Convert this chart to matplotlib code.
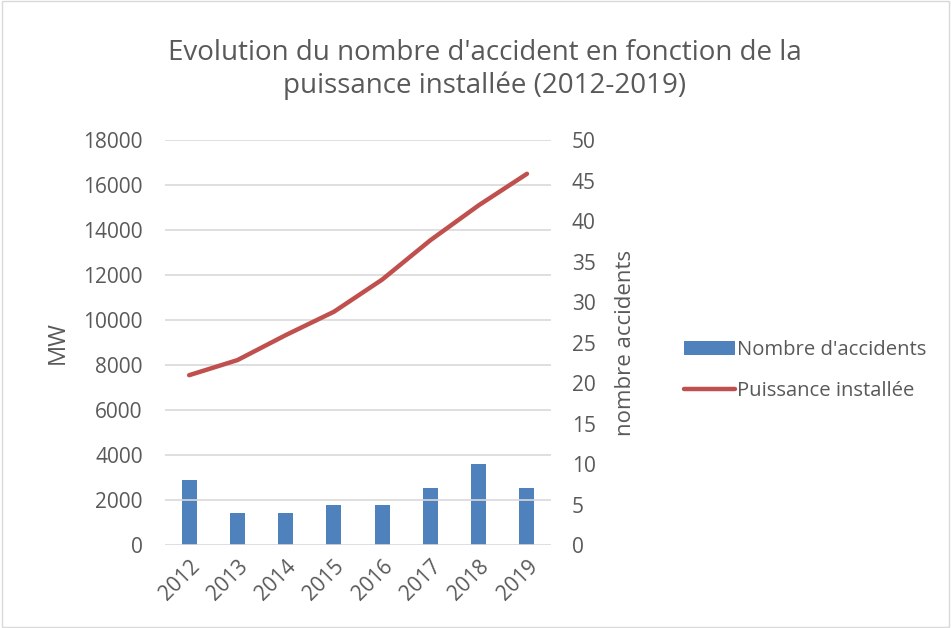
import matplotlib
matplotlib.use("Agg")
import matplotlib.pyplot as plt
from matplotlib.patches import Rectangle

years = ["2012", "2013", "2014", "2015", "2016", "2017", "2018", "2019"]
accidents = [8, 4, 4, 5, 5, 7, 10, 7]
puissance = [7550, 8220, 9330, 10370, 11800, 13550, 15100, 16500]

plt.rcParams["font.family"] = ["Open Sans", "DejaVu Sans"]
txt = "#595959"

fig = plt.figure(figsize=(9.51, 6.28), dpi=100)
ax = fig.add_axes([0.1735, 0.132, 0.406, 0.645])
ax2 = ax.twinx()

x = range(len(years))
bars = ax2.bar(x, accidents, width=0.31, color="#4f81bd", label="Nombre d'accidents")
line, = ax.plot(x, puissance, color="#c0504d", lw=3.2, solid_capstyle="round",
                label="Puissance installée")

ax.set_zorder(ax2.get_zorder() + 1)
ax.patch.set_visible(False)

ax.set_xlim(-0.5, 7.5)
ax.set_ylim(0, 18000)
ax.set_yticks(range(0, 18001, 2000))
ax2.set_ylim(0, 50)
ax2.set_yticks(range(0, 51, 5))
ax.set_xticks(list(x))
ax.set_xticklabels(years, rotation=45, ha="right", rotation_mode="anchor")

ax2.grid(False)
for v in range(0, 18001, 2000):
    ax.axhline(v, color="#d9d9d9", lw=1.2, zorder=0)

for a in (ax, ax2):
    for s in a.spines.values():
        s.set_visible(False)
    a.tick_params(length=0, labelsize=15, colors=txt)
ax.tick_params(axis="y", pad=16)
ax.tick_params(axis="x", pad=8)
ax2.tick_params(axis="y", pad=15)

ax.set_ylabel("MW", fontsize=17, color=txt, labelpad=10)
ax2.set_ylabel("nombre accidents", fontsize=16, color=txt, labelpad=14)

fig.text(0.51, 0.889, "Evolution du nombre d'accident en fonction de la\npuissance installée (2012-2019)",
         ha="center", va="center", fontsize=20, color=txt, linespacing=1.2)

fig.legend(handles=[bars, line], loc="center left", bbox_to_anchor=(0.7, 0.41),
           frameon=False, fontsize=14.6, labelcolor=txt, handlelength=2.5,
           handletextpad=0.1, labelspacing=1.0)

fig.patches.append(Rectangle((0.002, 0.002), 0.996, 0.996, transform=fig.transFigure,
                             fill=False, edgecolor="#d9d9d9", lw=1))

fig.savefig("out.png", dpi=100)
